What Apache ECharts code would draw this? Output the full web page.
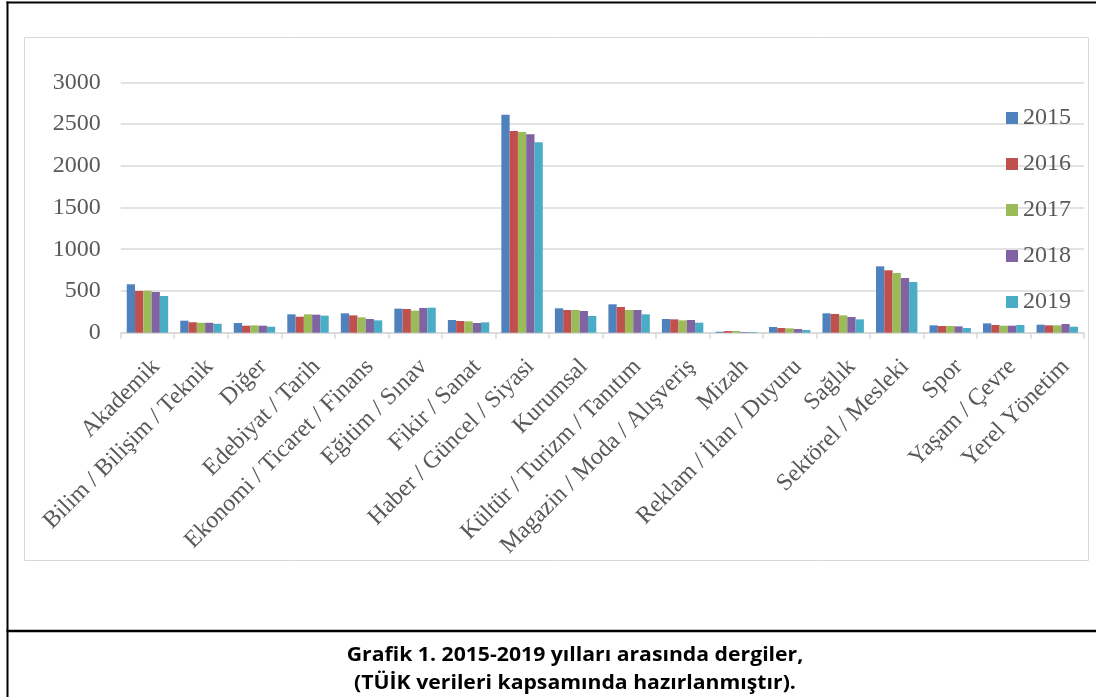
<!DOCTYPE html>
<html>
<head>
<meta charset="utf-8">
<script src="https://cdn.jsdelivr.net/npm/echarts@6/dist/echarts.min.js"></script>
<style>html,body{margin:0;padding:0;background:#fff;}#c{width:1096px;height:697px;}</style>
</head>
<body>
<div id="c"></div>
<script>
const categories = ["Akademik","Bilim / Bilişim / Teknik","Diğer","Edebiyat / Tarih","Ekonomi / Ticaret / Finans","Eğitim / Sınav","Fikir / Sanat","Haber / Güncel / Siyasi","Kurumsal","Kültür / Turizm / Tanıtım","Magazin / Moda / Alışveriş","Mizah","Reklam / İlan / Duyuru","Sağlık","Sektörel / Mesleki","Spor","Yaşam / Çevre","Yerel Yönetim"];
const years = ["2015","2016","2017","2018","2019"];
const v2015 = [580,144,116,220,232,288,152,2612,292,340,164,12,68,232,795,88,112,96];
const v2016 = [500,125,84,192,208,284,140,2416,272,308,160,20,56,224,748,80,92,88];
const v2017 = [503,119,88,220,184,264,136,2404,272,272,148,20,52,208,715,80,84,88];
const v2018 = [488,119,84,216,164,296,116,2377,260,272,152,8,44,188,655,76,84,104];
const v2019 = [440,107,72,204,148,300,124,2281,200,220,120,8,32,160,607,56,92,72];
const seriesValues = [v2015,v2016,v2017,v2018,v2019];
const yTicks = [0,500,1000,1500,2000,2500,3000];
const colors = ["#4F81BD","#C0504D","#9BBB59","#8064A2","#4BACC6"];
const caption1 = "Grafik 1. 2015-2019 yılları arasında dergiler,";
const caption2 = "(TÜİK verileri kapsamında hazırlanmıştır).";

const chart = echarts.init(document.getElementById('c'), null, {renderer:'canvas'});
const serif = '"Liberation Serif","Times New Roman",serif';
const capFont = 'bold 20px "Open Sans", Lato, sans-serif';
chart.setOption({
  animation:false,
  color: colors,
  grid:{left:120.7, right:12, top:82.3, bottom:364.3, containLabel:false},
  legend:{
    orient:'vertical', left:1006, top:106, padding:0,
    itemWidth:12, itemHeight:12, itemGap:22,
    icon:'rect',
    textStyle:{fontFamily:serif, fontSize:24, color:'#595959', lineHeight:24},
    data: years
  },
  xAxis:{
    type:'category', data:categories,
    axisLine:{lineStyle:{color:'#D9D9D9', width:1.5}},
    axisTick:{show:true, length:6, lineStyle:{color:'#D9D9D9', width:1.5}},
    axisLabel:{rotate:45, interval:0, margin:22, align:'right', verticalAlign:'top',
      fontFamily:serif, fontSize:24, color:'#595959'}
  },
  yAxis:{
    type:'value', min:0, max:3000, interval:500,
    axisLine:{show:false}, axisTick:{show:false},
    splitLine:{lineStyle:{color:'#D9D9D9', width:1.5}},
    axisLabel:{margin:20, fontFamily:serif, fontSize:24, color:'#595959',
      formatter: v => yTicks.includes(v) ? String(v) : ''}
  },
  series: years.map((y,i)=>({
    name:y, type:'bar', data:seriesValues[i],
    barGap:'0%', barCategoryGap:'22.6%'
  })),
  graphic:[
    {type:'rect', shape:{x:24.5,y:37.5,width:1064,height:523}, style:{fill:'none', stroke:'#D9D9D9', lineWidth:1}, z:-1, silent:true},
    {type:'line', shape:{x1:7.5,y1:1.5,x2:7.5,y2:697}, style:{stroke:'#000', lineWidth:2}},
    {type:'line', shape:{x1:6.5,y1:2.5,x2:1096,y2:2.5}, style:{stroke:'#000', lineWidth:2}},
    {type:'line', shape:{x1:6.5,y1:631,x2:1096,y2:631}, style:{stroke:'#000', lineWidth:2.5}},
    {type:'text', x:575, y:655, scaleX:1.06, style:{x:0, y:0, text:caption1, font:capFont, fill:'#000', align:'center', verticalAlign:'middle'}},
    {type:'text', x:575, y:683, scaleX:1.06, style:{x:0, y:0, text:caption2, font:capFont, fill:'#000', align:'center', verticalAlign:'middle'}}
  ]
});
</script>
</body>
</html>
